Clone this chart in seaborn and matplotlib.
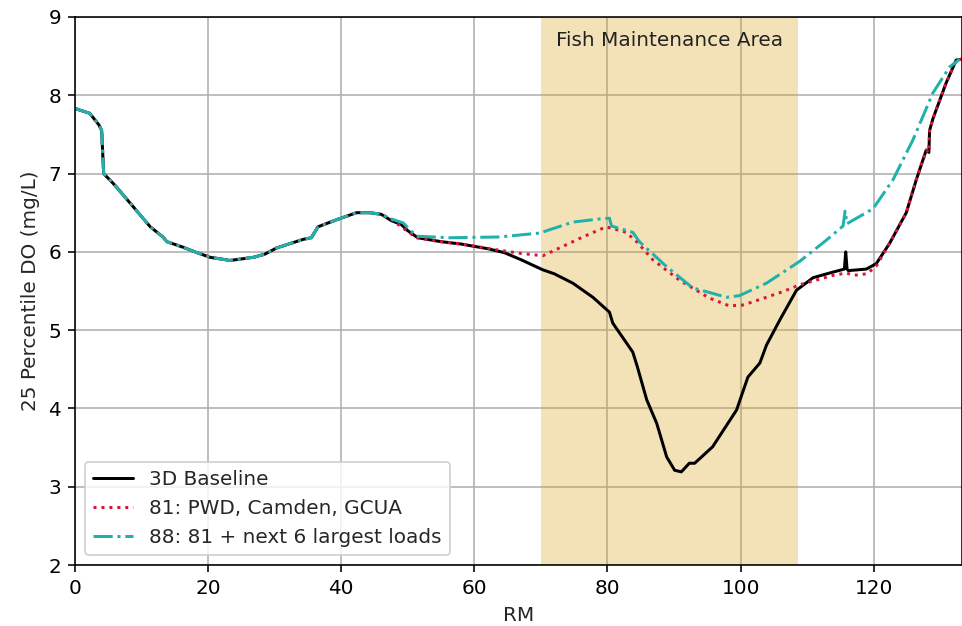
import matplotlib
matplotlib.use("Agg")
import matplotlib.pyplot as plt
import seaborn as sns

# ── Data ──────────────────────────────────────────────────────────────────────
# river mile / DO shared by all runs upstream of ~RM 46
rm_common = [0, 2.2, 3.6, 4.0, 4.3, 6, 8.3, 11.3, 13.2, 13.8, 16.2, 18, 20.3,
             23.3, 26.8, 28.5, 30.3, 34.3, 35.5, 36.5, 39.3, 42.3, 44.3, 46]
do_common = [7.83, 7.77, 7.62, 7.55, 7.0, 6.85, 6.62, 6.32, 6.19, 6.13, 6.06,
             6.0, 5.93, 5.89, 5.93, 5.97, 6.05, 6.16, 6.18, 6.32, 6.41, 6.5,
             6.5, 6.48]

rm_base_tail = [47.5, 49, 50, 51.5, 55, 58, 62, 64.5, 67, 70.3, 72, 74.8, 77.8,
                80.3, 80.8, 83.8, 84.5, 85.9, 87.4, 88.9, 90.1, 91.1, 92.3,
                93.1, 95.8, 99.4, 101.1, 102.9, 103.9, 105.9, 108.4, 110.9,
                113.4, 115.6, 115.8, 116.0, 116.2, 118.9, 120.4, 122.4, 124.9,
                126.4, 127.9, 128.3, 128.4, 128.9, 130.9, 132.4, 133.2]
do_base_tail = [6.4, 6.35, 6.27, 6.18, 6.13, 6.1, 6.04, 5.99, 5.9, 5.77, 5.72,
                5.6, 5.42, 5.23, 5.09, 4.72, 4.53, 4.11, 3.81, 3.38, 3.21, 3.19,
                3.30, 3.3, 3.51, 3.98, 4.40, 4.58, 4.81, 5.13, 5.51, 5.67, 5.73,
                5.78, 6.0, 5.78, 5.76, 5.78, 5.85, 6.11, 6.5, 6.92, 7.3, 7.27,
                7.55, 7.7, 8.16, 8.45, 8.46]

rm_81_tail = [47.5, 49, 51.3, 55, 58.8, 63.8, 67, 70.3, 72.8, 76.3, 79.8, 82.8,
              84.5, 86.8, 90.8, 95.3, 98.3, 100.3, 101.8, 106.3, 108.9, 111,
              113.9, 115.9, 117, 119, 120.4, 122.4, 124.9, 126.4, 127.9, 128.3,
              128.4, 128.9, 130.9, 132.4, 133.2]
do_81_tail = [6.42, 6.32, 6.18, 6.13, 6.09, 6.02, 5.98, 5.95, 6.05, 6.19, 6.32,
              6.25, 6.12, 5.9, 5.64, 5.41, 5.31, 5.32, 5.36, 5.49, 5.58, 5.63,
              5.7, 5.73, 5.7, 5.72, 5.82, 6.11, 6.5, 6.92, 7.3, 7.27, 7.55, 7.7,
              8.16, 8.45, 8.46]

rm_88_tail = [47.5, 49.3, 51.3, 56.3, 63.8, 69.8, 74.8, 78.8, 80.3, 80.6, 83.8,
              84.8, 88.9, 92.8, 97.9, 99.8, 103.9, 108.9, 112.9, 115.4, 115.7,
              116.0, 119.9, 122.9, 125.9, 128.9, 131.4, 132.9]
do_88_tail = [6.42, 6.37, 6.2, 6.18, 6.19, 6.24, 6.38, 6.42, 6.43, 6.33, 6.25,
              6.13, 5.81, 5.54, 5.42, 5.44, 5.6, 5.88, 6.15, 6.33, 6.52, 6.36,
              6.55, 6.92, 7.43, 8.03, 8.36, 8.46]

fma_start, fma_end = 70.0, 108.6
labels = ["3D Baseline", "81: PWD, Camden, GCUA", "88: 81 + next 6 largest loads"]

# ── Style ─────────────────────────────────────────────────────────────────────
sns.set_style("ticks", {"axes.grid": True, "grid.color": "#b0b0b0",
                        "axes.edgecolor": "black", "xtick.color": "black",
                        "ytick.color": "black"})
plt.rcParams["font.family"] = ["DejaVu Sans"]
plt.rcParams["font.size"] = 10

fig = plt.figure(figsize=(962 / 144, 626 / 144), dpi=144)
ax = fig.add_axes([0.078, 0.0974, 0.9215, 0.8755])

ax.axvspan(fma_start, fma_end, color="goldenrod", alpha=0.32, lw=0)
ax.text((fma_start + fma_end) / 2, 8.7, "Fish Maintenance Area",
        ha="center", va="center", fontsize=10, color="#222222")

sns.lineplot(x=rm_common + rm_base_tail, y=do_common + do_base_tail, ax=ax,
             color="black", lw=1.5, label=labels[0], estimator=None, sort=False)
sns.lineplot(x=rm_common + rm_81_tail, y=do_common + do_81_tail, ax=ax,
             color="crimson", lw=1.5, linestyle=":", label=labels[1],
             estimator=None, sort=False)
sns.lineplot(x=rm_common + rm_88_tail, y=do_common + do_88_tail, ax=ax,
             color="lightseagreen", lw=1.5, linestyle="-.", label=labels[2],
             estimator=None, sort=False)

ax.set_xlim(0, 133.2)
ax.set_ylim(2, 9)
ax.set_xticks(range(0, 121, 20))
ax.set_yticks(range(2, 10))
ax.set_xlabel("RM")
ax.set_ylabel("25 Percentile DO (mg/L)")
ax.legend(loc="lower left", fontsize=10, framealpha=0.8)

fig.savefig("out.png", dpi=144)
